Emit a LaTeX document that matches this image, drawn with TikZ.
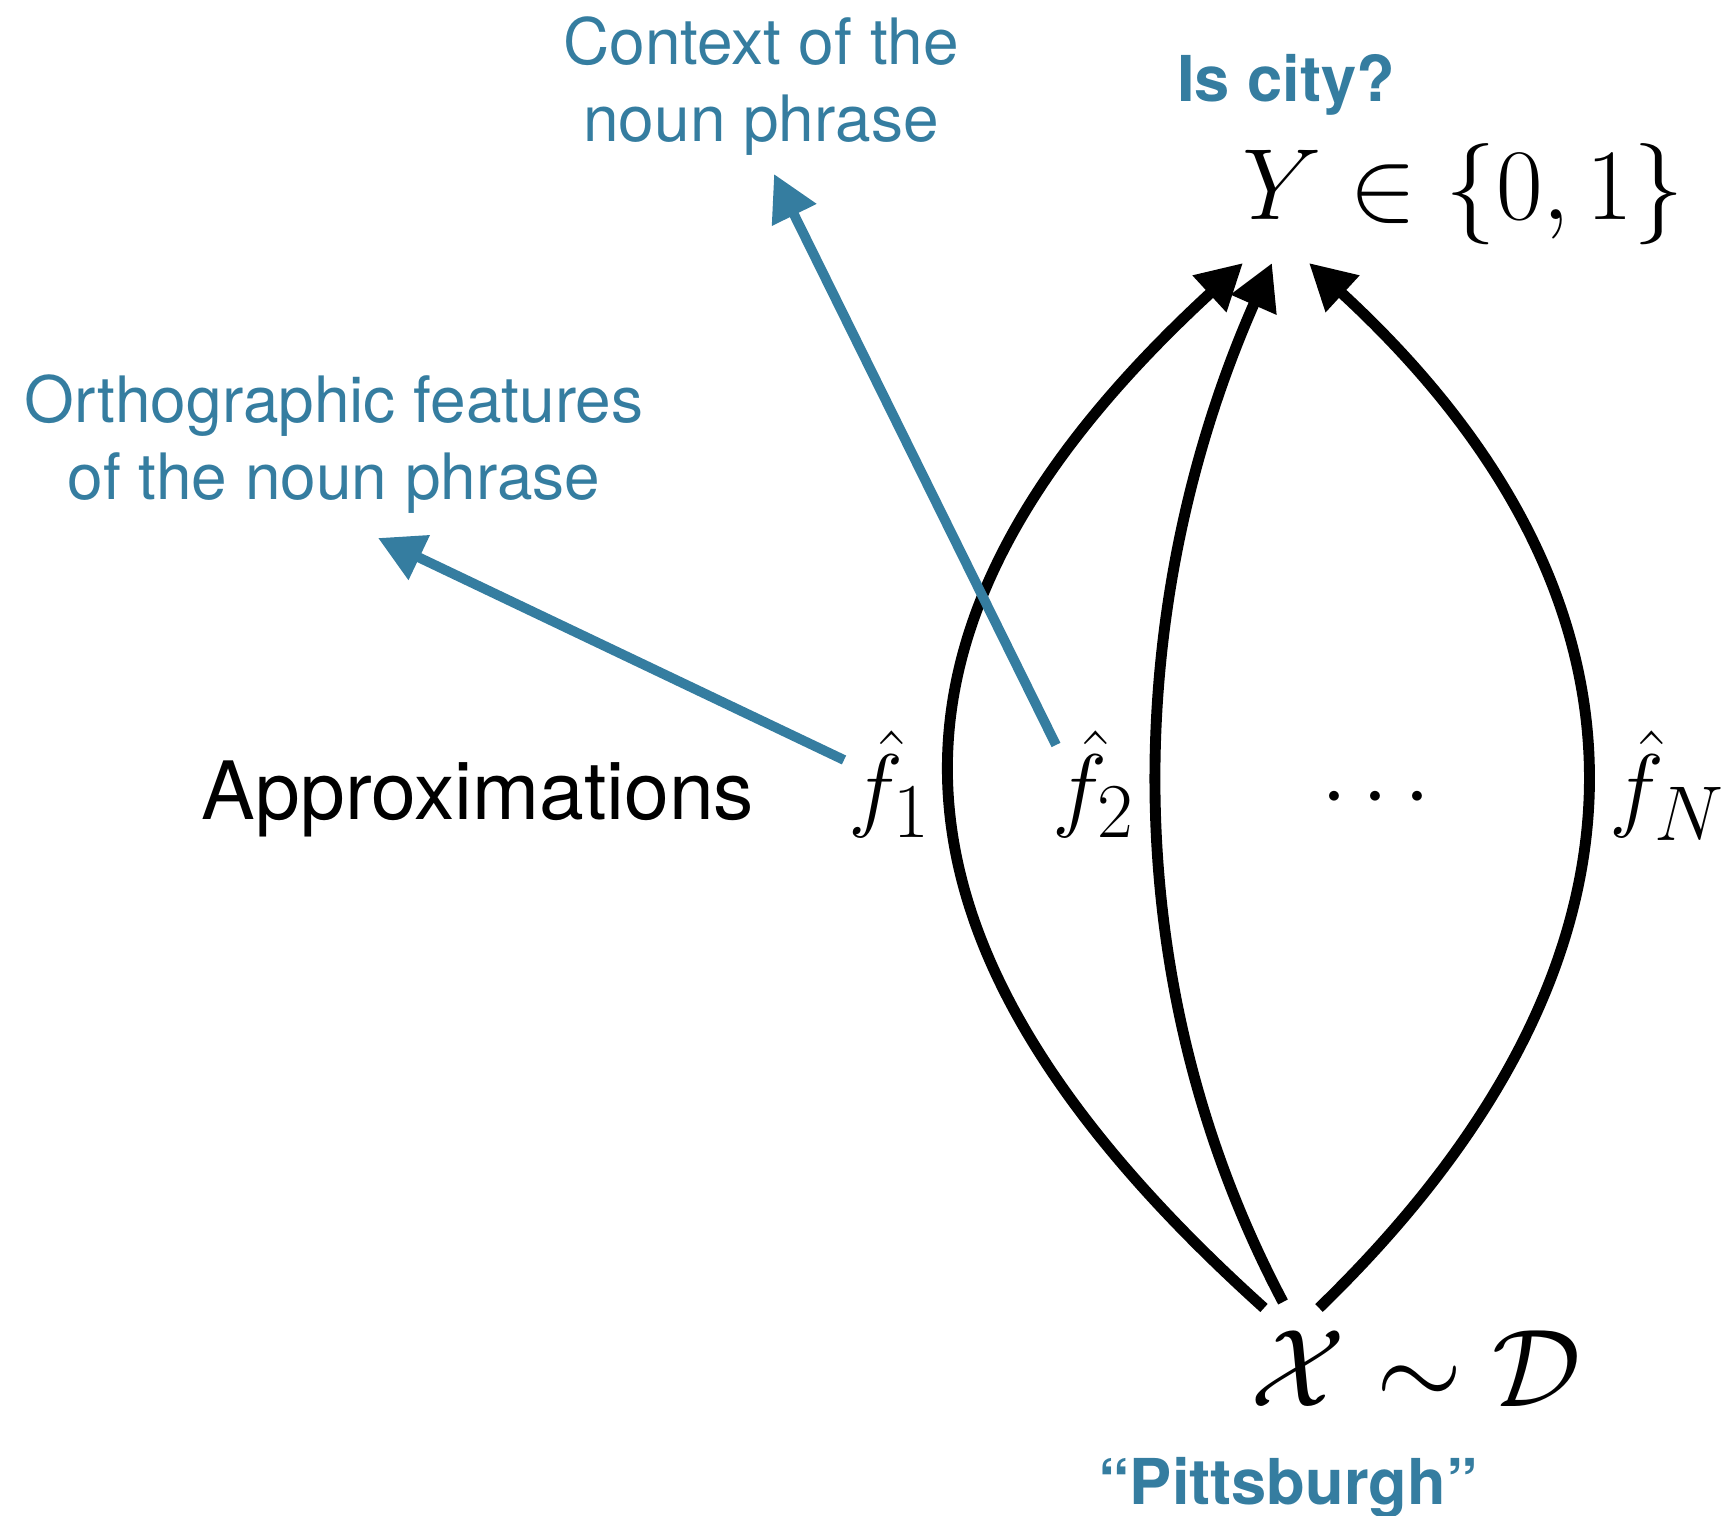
\documentclass[tikz,border=0pt]{standalone}
\usepackage{fontspec}
\setmainfont{TeX Gyre Heros}
\usetikzlibrary{arrows.meta}
\definecolor{notecol}{RGB}{53,125,160}

\begin{document}
\begin{tikzpicture}[every node/.style={inner sep=0pt},
		link/.style={line width=3.1pt, -{Triangle[length=13pt,width=13.4pt]}},
		note/.style={text=notecol, align=center,
			font=\fontsize{18.2}{21.9}\selectfont},
		tag/.style={text=notecol, font=\fontsize{18}{22}\selectfont\bfseries},
		big/.style={font=\fontsize{24.88}{30}\selectfont}]
		\useasboundingbox (0,0) rectangle (17.23,15.16);

		% The label, the predicted variable and the input distribution.
		\node[tag, anchor=base] (city) at (12.86,14.14) {Is city?};
		\node[big, scale=1.158, anchor=base]
			(Y) at (14.63,12.96) {$Y\in\{0,1\}$};
		\node[big, scale=1.266, anchor=base]
			(X) at (14.16,1.09) {$\mathcal{X}\sim\mathcal{D}$};
		\node[tag, anchor=base] (pitts) at (12.88,0.11) {“Pittsburgh”};

		% The row of approximations, all on one baseline.
		\def\yb{6.96}
		\node[anchor=base, font=\fontsize{22.9}{27}\selectfont]
			(approx) at (4.78,\yb) {Approximations};
		\node[big, scale=1.065, anchor=base] (f1) at (8.90,\yb) {$\hat f_1$};
		\node[big, scale=1.065, anchor=base] (f2) at (10.94,\yb) {$\hat f_2$};
		\node[big, scale=1.065, anchor=base] (dots) at (13.76,\yb) {$\cdots$};
		\node[big, scale=1.065, anchor=base] (fN) at (16.67,\yb) {$\hat f_N$};

		% What the first two approximations look at.
		\node[note] (ortho) at (3.34,10.72)
			{Orthographic features\\of the noun phrase};
		\node[note] (context) at (7.61,14.30)
			{Context of the\\noun phrase};

		% Ends of the curves: tails above X, tips below Y.
		\coordinate (t1) at (12.64,2.08);
		\coordinate (t2) at (12.83,2.14);
		\coordinate (t3) at (13.19,2.08);
		\coordinate (h1) at (12.43,12.53);
		\coordinate (h2) at (12.72,12.53);
		\coordinate (h3) at (13.09,12.53);

		\draw[link] (t1) .. controls +(-4.02,3.62) and +(-4.02,-3.70) .. (h1);
		\draw[link] (t2) .. controls +(-1.75,3.31) and +(-1.46,-3.31) .. (h2);
		\draw[link] (t3) .. controls +(3.62,3.51) and +(3.62,-3.33) .. (h3);

		% Pointers from f_1 and f_2 to their notes.
		\coordinate (b1) at (8.44,7.56);
		\coordinate (e1) at (3.78,9.78);
		\coordinate (b2) at (10.56,7.71);
		\coordinate (e2) at (7.74,13.42);
		\draw[link, notecol, line width=2.8pt] (b1) -- (e1);
		\draw[link, notecol, line width=2.8pt] (b2) -- (e2);
	\end{tikzpicture}
\end{document}
